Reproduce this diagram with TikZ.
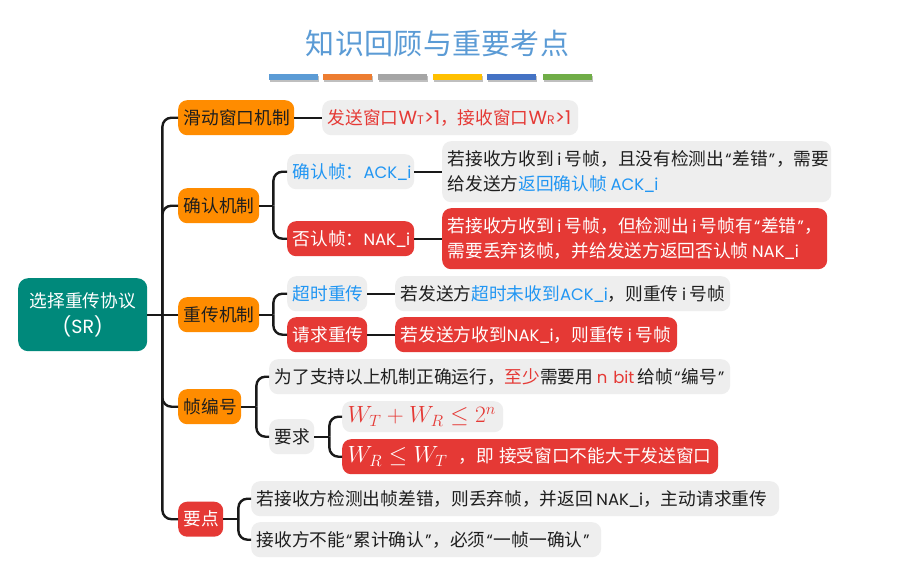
\documentclass[tikz,border=0pt]{standalone}
\usepackage{fontspec}
\usetikzlibrary{calc}
\setmainfont{Noto Sans CJK SC}
\newfontfamily\lat{Poppins}
\newfontfamily\titlefont[LetterSpace=1]{Noto Sans CJK SC}
\newcommand\La[1]{{\lat\fontsize{16.5}{24.5}\selectfont #1}}
\newcommand\Lw[1]{{\lat\fontsize{19}{24.5}\selectfont #1}}
\newcommand\Lb[1]{{\lat\fontsize{12.5}{24.5}\selectfont #1}}
\newcommand\us{\kern-1pt\_\kern-1pt}
\newcommand\gap{\hspace{3.5pt}}
\newcommand\qo{\kern1pt\La{“}\kern1pt}
\newcommand\qc{\kern1pt\La{”}\kern1pt}
\definecolor{cOrange}{HTML}{FF8C00}
\definecolor{cRed}{HTML}{E53935}
\definecolor{cGray}{HTML}{EEEEEE}
\definecolor{cTeal}{HTML}{00897B}
\definecolor{cBlue}{HTML}{2196F3}
\definecolor{cInk}{HTML}{1E1E1E}
\definecolor{cTitle}{HTML}{5B9BD5}
\newcommand\bl[1]{\textcolor{cBlue}{#1}}
\newcommand\rd[1]{\textcolor{cRed}{#1}}
\tikzset{
  mbox/.style={anchor=north west,rounded corners=9pt,inner ysep=0pt,inner xsep=5.5pt,align=left,
    font=\fontsize{17.7}{24.5}\selectfont,text=cInk},
  orangebox/.style={mbox,fill=cOrange},
  redbox/.style={mbox,fill=cRed,text=white},
  graybox/.style={mbox,fill=cGray},
  conn/.style={draw=black!90,line width=2.4pt,rounded corners=9pt},
}
\begin{document}
\begin{tikzpicture}[x=1pt,y=-1pt]
\useasboundingbox (0,0) rectangle (922,565);
\fill[white] (0,0) rectangle (922,565);
% title
\node[text=cTitle,font=\titlefont\fontsize{29}{32}\selectfont,inner sep=0pt] (title) at (437.5,44) {知识回顾与重要考点};
\foreach \xx/\cc in {269/5B9BD5,323/ED7D31,378/A5A5A5,433/FFC000,487/4472C4,543/70AD47}{
  \fill[black!25] (\xx+1,76) rectangle (\xx+50,82);
  \definecolor{tmpc}{HTML}{\cc}
  \fill[tmpc] (\xx,74) rectangle (\xx+49,80);
}
% root
\node[mbox,fill=cTeal,text=white,align=center,rounded corners=10pt,minimum width=129pt,minimum height=73pt,text width=118pt] (root) at (18,278) {选择重传协议\\[1pt]{\Lw{(SR)}}};
% level 1
\node[orangebox,minimum width=116pt,minimum height=35pt,text width=105pt] (slide) at (178,100) {滑动窗口机制};
\node[orangebox,minimum width=81pt,minimum height=35pt,text width=70pt] (conf) at (178,188) {确认机制};
\node[orangebox,minimum width=81pt,minimum height=35pt,text width=70pt] (retr) at (178,297) {重传机制};
\node[orangebox,minimum width=63pt,minimum height=35pt,text width=52pt] (num) at (178,389) {帧编号};
\node[redbox,minimum width=45pt,minimum height=35pt,text width=34pt] (key) at (178,501.5) {要点};
% sliding window
\node[graybox,minimum width=256pt,minimum height=35pt,text width=245pt,text=cRed] (slided) at (322,100) {\mbox{发送窗口\Lw{W}\Lb{T}\Lw{>1}，接收窗口\Lw{W}\Lb{R}\Lw{>1}}};
% confirm
\node[graybox,minimum width=127pt,minimum height=35pt,text width=116pt,text=cBlue] (ack) at (287,154) {\mbox{确认帧：\La{ACK\us i}}};
\node[redbox,minimum width=127pt,minimum height=35pt,text width=116pt] (nak) at (287,221) {\mbox{否认帧：\La{NAK\us i}}};
\node[graybox,minimum width=389pt,minimum height=61pt,text width=378pt] (ackd) at (442,141) {\mbox{若接收方收到\gap\La{i}\gap 号帧，且没有检测出\qo 差错\qc ，需要}\\\mbox{给发送方\bl{返回确认帧\gap\La{ACK\us i}}}};
\node[redbox,minimum width=385pt,minimum height=61pt,text width=374pt] (nakd) at (442,208) {\mbox{若接收方收到\gap\La{i}\gap 号帧，但检测出\gap\La{i}\gap 号帧有\qo 差错\qc ，}\\\mbox{需要丢弃该帧，并给发送方返回否认帧\gap\La{NAK\us i}}};
% retransmit
\node[graybox,minimum width=80pt,minimum height=35pt,text width=69pt,text=cBlue] (tout) at (287,276) {超时重传};
\node[redbox,minimum width=80pt,minimum height=35pt,text width=69pt] (req) at (287,317) {请求重传};
\node[graybox,minimum width=335pt,minimum height=35pt,text width=324pt] (toutd) at (395,276) {\mbox{若发送方\bl{超时未收到\La{ACK\us i}}，则重传\gap\La{i}\gap 号帧}};
\node[redbox,minimum width=282pt,minimum height=35pt,text width=271pt] (reqd) at (395,317) {\mbox{若发送方收到\La{NAK\us i}，则重传\gap\La{i}\gap 号帧}};
% numbering
\node[graybox,minimum width=461pt,minimum height=35pt,text width=450pt] (numa) at (269,359) {\mbox{为了支持以上机制正确运行，\rd{至少}需要用\gap\rd{\La{n bit}}\gap 给帧\qo 编号\qc}};
\node[graybox,minimum width=45pt,minimum height=35pt,text width=34pt] (need) at (269,419) {要求};
\node[graybox,minimum width=161pt,minimum height=31pt,text width=150pt,text=cRed] (eq1) at (342,401) {\mbox{\scalebox{1.36}{$W_T+W_R\le 2^n$}}};
\node[redbox,minimum width=376pt,minimum height=35pt,text width=365pt] (eq2) at (342,439) {\mbox{\scalebox{1.36}{$W_R\le W_T$}\hspace{11pt}，即\hspace{5pt}接受窗口不能大于发送窗口}};
% key points
\node[graybox,minimum width=528pt,minimum height=35pt,text width=517pt] (keya) at (251,481) {\mbox{若接收方检测出帧差错，则丢弃帧，并返回\gap\La{NAK\us i}，主动请求重传}};
\node[graybox,minimum width=350pt,minimum height=35pt,text width=339pt] (keyb) at (251,522) {\mbox{接收方不能\qo 累计确认\qc ，必须\qo 一帧一确认\qc}};
% junctions
\coordinate (j0) at ($(root.east)+(15,0)$);
\coordinate (j1) at ($(conf.east)+(14,0)$);
\coordinate (j2) at ($(retr.east)+(14,0)$);
\coordinate (j3) at ($(num.east)+(15,0)$);
\coordinate (j4) at ($(key.east)+(15,0)$);
\coordinate (j5) at ($(need.east)+(15,0)$);
% connectors
\draw[conn] (root.east) -- (retr.west);
\draw[conn] (j0) |- (slide.west);
\draw[conn] (j0) |- (conf.west);
\draw[conn] (j0) |- (num.west);
\draw[conn] (j0) |- (key.west);
\draw[conn] (slide.east) -- (slided.west);
\draw[conn] (conf.east) -- (j1);
\draw[conn] (j1) |- (ack.west);
\draw[conn] (j1) |- (nak.west);
\draw[conn] (ack.east) -- (ackd.west);
\draw[conn] (nak.east) -- (nakd.west);
\draw[conn] (retr.east) -- (j2);
\draw[conn] (j2) |- (tout.west);
\draw[conn] (j2) |- (req.west);
\draw[conn] (tout.east) -- (toutd.west);
\draw[conn] (req.east) -- (reqd.west);
\draw[conn] (num.east) -- (j3);
\draw[conn] (j3) |- (numa.west);
\draw[conn] (j3) |- (need.west);
\draw[conn] (need.east) -- (j5);
\draw[conn] (j5) |- (eq1.west);
\draw[conn] (j5) |- (eq2.west);
\draw[conn] (key.east) -- (j4);
\draw[conn] (j4) |- (keya.west);
\draw[conn] (j4) |- (keyb.west);
\end{tikzpicture}
\end{document}
